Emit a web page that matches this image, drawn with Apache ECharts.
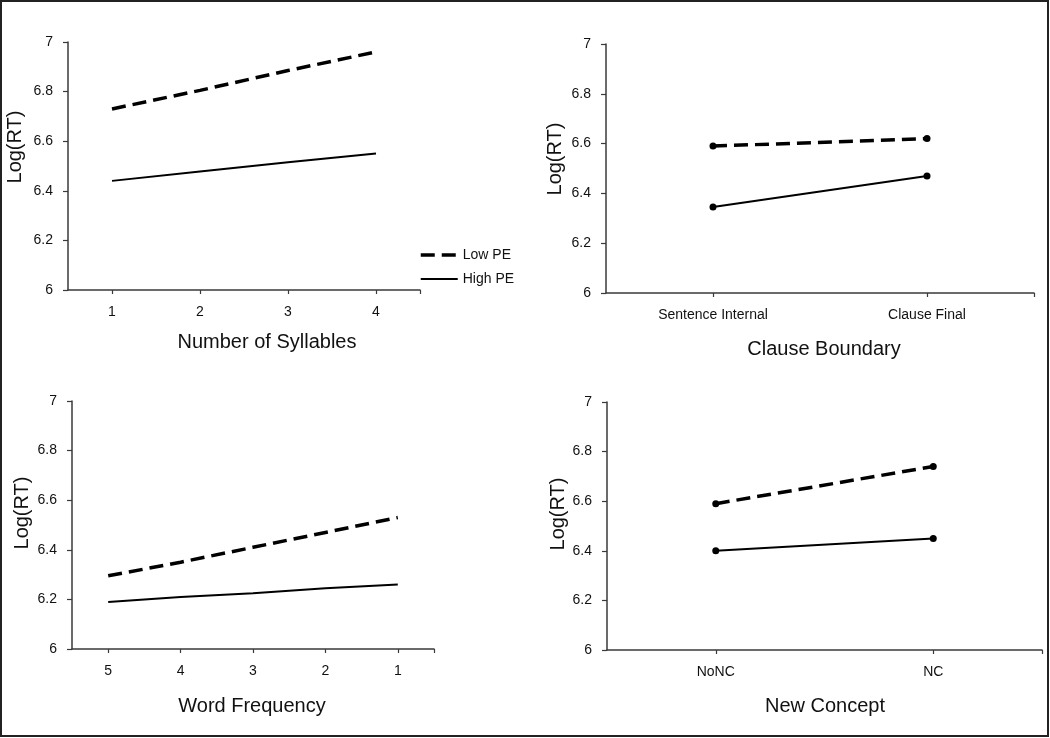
<!DOCTYPE html>
<html>
<head>
<meta charset="utf-8">
<script src="https://cdn.jsdelivr.net/npm/echarts@6/dist/echarts.min.js"></script>
<style>
  html, body { margin: 0; padding: 0; background: #fff; }
  #chart { width: 1050px; height: 738px; }
</style>
</head>
<body>
<div id="chart"></div>
<script>
// ---- data ----
const seriesNames = ['Low PE', 'High PE'];

const syllableCats = [1, 2, 3, 4];
const syllableLow = [6.73, 6.805, 6.885, 6.96];
const syllableHigh = [6.44, 6.478, 6.515, 6.55];

const clauseCats = ['Sentence Internal', 'Clause Final'];
const clauseLow = [6.59, 6.62];
const clauseHigh = [6.345, 6.47];

const freqCats = [5, 4, 3, 2, 1];
const freqLow = [6.295, 6.35, 6.41, 6.47, 6.53];
const freqHigh = [6.19, 6.21, 6.225, 6.245, 6.26];

const conceptCats = ['NoNC', 'NC'];
const conceptLow = [6.59, 6.74];
const conceptHigh = [6.40, 6.45];

const yMin = 6, yMax = 7, yStep = 0.2;
const yName = 'Log(RT)';
const xNames = ['Number of Syllables', 'Clause Boundary', 'Word Frequency', 'New Concept'];

// ---- chart ----
const FONT = '"Liberation Sans", Arial, Helvetica, sans-serif';
const AXIS_COLOR = '#3a3a3a';
const chart = echarts.init(document.getElementById('chart'), null, { renderer: 'canvas' });

const grids = [
  { left: 68, top: 42, width: 352, height: 248 },
  { left: 606, top: 44, width: 428, height: 249 },
  { left: 72, top: 401, width: 362, height: 248 },
  { left: 607, top: 402, width: 435, height: 248 }
];

function yAxis(i) {
  return {
    type: 'value', gridIndex: i, min: yMin, max: yMax, interval: yStep,
    axisLine: { show: true, lineStyle: { color: AXIS_COLOR, width: 1.5 } },
    axisTick: { show: true, length: 5, lineStyle: { color: AXIS_COLOR, width: 1.2 } },
    axisLabel: { margin: 15, fontSize: 14, color: '#111', fontFamily: FONT },
    splitLine: { show: false }
  };
}

function xAxisNum(i, min, max, ticks, labels, fmt, inverse) {
  return {
    type: 'value', gridIndex: i, min: min, max: max, inverse: !!inverse,
    axisLine: { show: true, onZero: false, lineStyle: { color: AXIS_COLOR, width: 1.5 } },
    axisTick: { show: true, length: 4, customValues: ticks, lineStyle: { color: AXIS_COLOR, width: 1.2 } },
    axisLabel: { margin: 15, fontSize: 14, color: '#111', fontFamily: FONT, customValues: labels, formatter: fmt },
    splitLine: { show: false }
  };
}

const idx = (arr) => arr.map((_, i) => i + 1);

const xAxes = [
  xAxisNum(0, 0.5, syllableCats.length + 0.5,
    syllableCats.concat([syllableCats.length + 0.5]), syllableCats, (v) => String(v)),
  xAxisNum(1, 0.5, clauseCats.length + 0.5,
    idx(clauseCats).concat([clauseCats.length + 0.5]), idx(clauseCats), (v) => clauseCats[Math.round(v) - 1] || ''),
  xAxisNum(2, 0.5, freqCats.length + 0.5,
    freqCats.concat([0.5]), freqCats, (v) => String(v), true),
  xAxisNum(3, 0.5, conceptCats.length + 0.5,
    idx(conceptCats).concat([conceptCats.length + 0.5]), idx(conceptCats), (v) => conceptCats[Math.round(v) - 1] || '')
];

const dashedStyle = { color: '#000', width: 3.5, type: [14, 7] };
const solidStyle = { color: '#000', width: 2, type: 'solid' };

function lineSeries(name, gi, xs, ys, style, withSymbol) {
  return {
    type: 'line', name: name, xAxisIndex: gi, yAxisIndex: gi,
    data: xs.map((x, i) => [x, ys[i]]),
    lineStyle: style,
    itemStyle: { color: '#000' },
    symbol: withSymbol ? 'circle' : 'none',
    symbolSize: 7,
    showSymbol: !!withSymbol,
    silent: true,
    z: name === 'Low PE' ? 3 : 2
  };
}

const series = [
  lineSeries('Low PE', 0, syllableCats, syllableLow, dashedStyle, false),
  lineSeries('High PE', 0, syllableCats, syllableHigh, solidStyle, false),
  lineSeries('Low PE', 1, idx(clauseCats), clauseLow, dashedStyle, true),
  lineSeries('High PE', 1, idx(clauseCats), clauseHigh, solidStyle, true),
  lineSeries('Low PE', 2, freqCats, freqLow, dashedStyle, false),
  lineSeries('High PE', 2, freqCats, freqHigh, solidStyle, false),
  lineSeries('Low PE', 3, idx(conceptCats), conceptLow, dashedStyle, true),
  lineSeries('High PE', 3, idx(conceptCats), conceptHigh, solidStyle, true)
];

const yNamePos = [[15, 147], [555, 159], [22, 513], [558, 514]];
const xNamePos = [[267, 342], [824, 349], [252, 706], [825, 706]];

const graphics = [
  { type: 'rect', shape: { x: 1, y: 1, width: 1047, height: 735 }, style: { fill: 'none', stroke: '#222', lineWidth: 2 }, silent: true }
];
yNamePos.forEach((p) => {
  graphics.push({
    type: 'text', x: p[0], y: p[1], rotation: Math.PI / 2,
    style: { text: yName, font: '20px ' + FONT, fill: '#111', align: 'center', verticalAlign: 'middle' }
  });
});
xNamePos.forEach((p, i) => {
  graphics.push({
    type: 'text', x: p[0], y: p[1],
    style: { text: xNames[i], font: '20px ' + FONT, fill: '#111', align: 'center', verticalAlign: 'middle' }
  });
});

chart.setOption({
  animation: false,
  backgroundColor: '#fff',
  grid: grids,
  xAxis: xAxes,
  yAxis: [0, 1, 2, 3].map(yAxis),
  legend: {
    data: seriesNames,
    orient: 'vertical',
    left: 414, top: 243,
    itemWidth: 37, itemHeight: 14, itemGap: 10,
    selectedMode: false,
    itemStyle: { opacity: 0 },
    lineStyle: { width: 'inherit' },
    textStyle: { fontSize: 14, color: '#111', fontFamily: FONT }
  },
  series: series,
  graphic: graphics
});
</script>
</body>
</html>
